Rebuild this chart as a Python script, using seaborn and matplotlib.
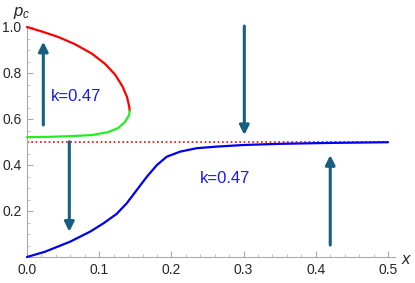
import numpy as np
import pandas as pd
import matplotlib
matplotlib.use("Agg")
import matplotlib.pyplot as plt
from matplotlib.ticker import MultipleLocator
import seaborn as sns

# upper (unstable) branch
red_x = [0.0, 0.020, 0.043, 0.066, 0.090, 0.108, 0.122, 0.132, 0.1385,
         0.1417, 0.1422]
red_p = [1.0, 0.981, 0.957, 0.926, 0.884, 0.840, 0.793, 0.743, 0.696,
         0.652, 0.635]
# lower branch
green_x = [0.1422, 0.1413, 0.1357, 0.1265, 0.1126, 0.0896, 0.057, 0.025, 0.0]
green_p = [0.635, 0.616, 0.587, 0.561, 0.543, 0.530, 0.525, 0.522, 0.521]
# blue trajectory
blue_x = [0.0, 0.025, 0.06, 0.0873, 0.1057, 0.124, 0.138, 0.152, 0.166,
          0.180, 0.1935, 0.212, 0.235, 0.263, 0.30, 0.35, 0.42, 0.5]
blue_p = [0.0, 0.023, 0.067, 0.110, 0.146, 0.187, 0.233, 0.291, 0.349,
          0.400, 0.436, 0.458, 0.473, 0.480, 0.487, 0.492, 0.496, 0.499]
# dotted level
level = 0.5
# arrows (x, from p, to p)
arrow_x = [0.0226, 0.0586, 0.301, 0.42]
arrow_from = [0.574, 0.501, 1.004, 0.052]
arrow_to = [0.936, 0.11, 0.53, 0.443]
labels = [("k=0.47", 0.033, 0.697), ("k=0.47", 0.24, 0.343)]

sns.set_style("ticks")
plt.rcParams['font.family'] = ['Liberation Sans', 'DejaVu Sans']
plt.rcParams['mathtext.fontset'] = 'custom'
plt.rcParams['mathtext.it'] = 'Liberation Sans:italic'
plt.rcParams['mathtext.rm'] = 'Liberation Sans'

fig = plt.figure(figsize=(4.15, 2.83), dpi=100)
ax = fig.add_axes([27 / 415, 26 / 283, (0.51 * 722) / 415, 230 / 283])

ax.plot([0, 0.5], [level, level], color='red', lw=1.2,
        linestyle=(0, (1, 1.6)), zorder=2)
line_kw = dict(lw=1.6, ax=ax, sort=False, solid_joinstyle='round',
               solid_capstyle='round', clip_on=False, zorder=3)
sns.lineplot(x=red_x, y=red_p, color='#ff0000', **line_kw)
sns.lineplot(x=green_x, y=green_p, color='#22ee22', **line_kw)
sns.lineplot(x=blue_x, y=blue_p, color='#0000ee', **line_kw)

for xa, p0, p1 in zip(arrow_x, arrow_from, arrow_to):
    ax.annotate('', xy=(xa, p1), xytext=(xa, p0),
                arrowprops=dict(arrowstyle='-|>', color='#17607d', lw=2.2,
                                mutation_scale=14, shrinkA=0, shrinkB=0),
                annotation_clip=False, zorder=4)

for txt, tx, ty in labels:
    ax.text(tx, ty, txt, color='#1a1aee', fontsize=12, ha='left', va='center')

ax.set_xlim(0, 0.51)
ax.set_ylim(0, 1.0)
ax.set_xticks([0, 0.1, 0.2, 0.3, 0.4, 0.5])
ax.set_yticks([0.2, 0.4, 0.6, 0.8, 1.0])
ax.set_xticklabels(['0.0', '0.1', '0.2', '0.3', '0.4', '0.5'])
ax.set_yticklabels(['0.2', '0.4', '0.6', '0.8', '1.0'])
ax.xaxis.set_minor_locator(MultipleLocator(0.02))
ax.yaxis.set_minor_locator(MultipleLocator(0.05))
ax.tick_params(which='major', direction='in', length=4, width=0.8,
               color='#aaaaaa', labelsize=10, pad=4)
ax.tick_params(which='minor', direction='in', length=2.5, width=0.6,
               color='#bbbbbb')
for s in ['top', 'right']:
    ax.spines[s].set_visible(False)
for s in ['left', 'bottom']:
    ax.spines[s].set_color('#aaaaaa')
    ax.spines[s].set_linewidth(0.8)
ax.set_facecolor('white')

ax.text(-0.007, 1.06, '$p_c$', fontsize=12, ha='center', va='center')
ax.text(0.526, -0.013, '$x$', fontsize=12, ha='center', va='center')

fig.savefig('out.png', dpi=100)
